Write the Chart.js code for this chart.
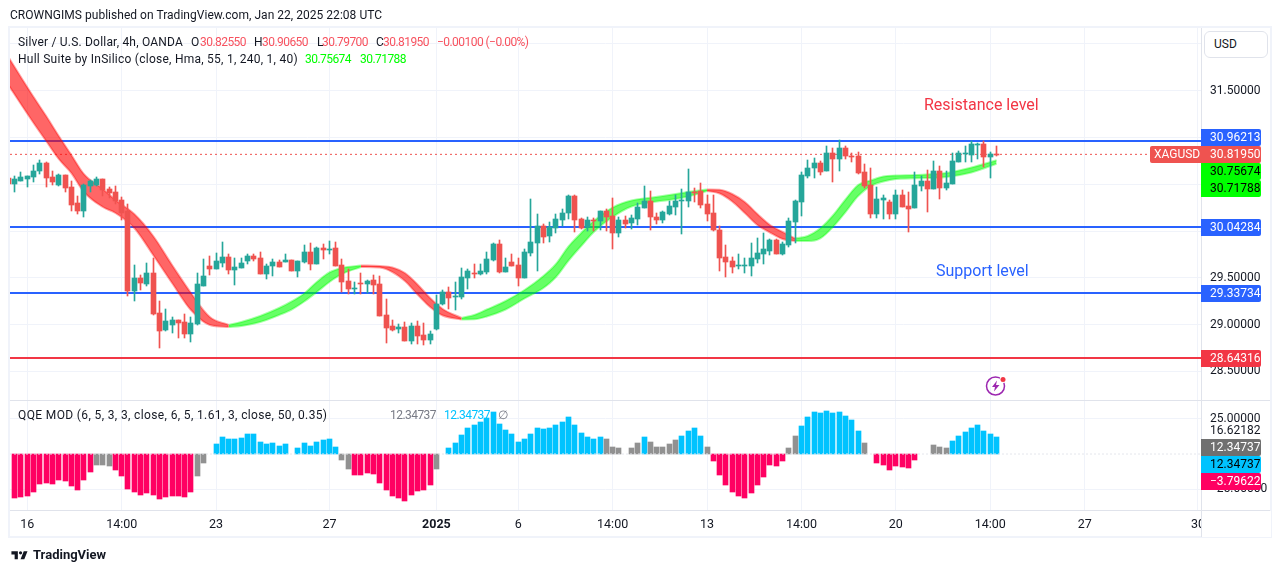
<!DOCTYPE html>
<html>
<head>
<meta charset="utf-8">
<title>XAGUSD 4h</title>
<script src="https://cdn.jsdelivr.net/npm/chart.js@4"></script>
<style>
    html, body { margin: 0; padding: 0; background: #fff; overflow: hidden; }
    body { width: 1281px; height: 573px; position: relative; font-family: Roboto, sans-serif; font-size: 12px; color: #131722; }
    canvas { position: absolute; left: 0; top: 0; }
    .frame { position: absolute; left: 8px; top: 26px; width: 1260px; height: 508px; border: 2px solid #f0f3fa; }
    .t { position: absolute; white-space: nowrap; line-height: 16px; }
    .num { letter-spacing: -0.55px; }
    .red { color: #f7525f; }
    .green { color: #00ff00; }
    .usd { position: absolute; left: 1204px; top: 31px; width: 62px; height: 25px; background: #fff; border: 1px solid #e0e3eb; border-radius: 6px; line-height: 25px; text-indent: 9px; }
</style>
</head>
<body>
<div class="frame"></div>
<canvas id="myChart" width="1281" height="573"></canvas>

<div class="t" style="left:10px;top:7px;letter-spacing:0.03px">CROWNGIMS published on TradingView.com, Jan 22, 2025 22:08 UTC</div>
<div class="t" style="left:18px;top:34px;letter-spacing:0.2px">Silver / U.S. Dollar, 4h, OANDA</div>
<div class="t" style="left:191px;top:34px">O</div><div class="t red num" style="left:200px;top:34px">30.82550</div>
<div class="t" style="left:254px;top:34px">H</div><div class="t red num" style="left:262px;top:34px">30.90650</div>
<div class="t" style="left:317px;top:34px">L</div><div class="t red num" style="left:322px;top:34px">30.79700</div>
<div class="t" style="left:376px;top:34px">C</div><div class="t red num" style="left:383px;top:34px">30.81950</div>
<div class="t red num" style="left:437px;top:34px">−0.00100 (−0.00%)</div>
<div class="t" style="left:18px;top:51px;letter-spacing:0.25px">Hull Suite by InSilico (close, Hma, 55, 1, 240, 1, 40)</div>
<div class="t green num" style="left:305px;top:51px">30.75674</div>
<div class="t green num" style="left:360px;top:51px">30.71788</div>
<div class="t" style="left:18px;top:407px;letter-spacing:0.37px">QQE MOD (6, 5, 3, 3, close, 6, 5, 1.61, 3, close, 50, 0.35)</div>
<div class="t num" style="left:390px;top:407px;color:#787b86">12.34737</div>
<div class="t num" style="left:444px;top:407px;color:#00c3ff">12.34737</div>
<div class="t" style="left:498px;top:407px;color:#787b86">∅</div>
<div class="t" style="left:924px;top:96px;font-size:16px;line-height:18px;color:#f23645">Resistance level</div>
<div class="t" style="left:936px;top:262px;font-size:16px;line-height:18px;color:#2962ff">Support level</div>
<div class="usd">USD</div>

<svg style="position:absolute;left:985px;top:375px" width="24" height="22" viewBox="0 0 24 22">
    <circle cx="10.5" cy="11" r="9" fill="none" stroke="#9c27b0" stroke-width="1.5"/>
    <path d="M12 5.5 L7 12 H10 L9 16.5 L14.5 10 H11 Z" fill="#9c27b0"/>
    <circle cx="18" cy="4.5" r="3.5" fill="#fff"/>
    <circle cx="18" cy="4.5" r="2.5" fill="#f23645"/>
</svg>
<svg style="position:absolute;left:10px;top:548px" width="20" height="15" viewBox="0 0 36 28">
    <path fill="#131722" d="M14 6H2v6h6v9h6V6zm12 15h-7l6-15h7l-6 15zm-7-9a3 3 0 1 0 0-6 3 3 0 0 0 0 6z"/>
</svg>
<div class="t" style="left:33px;top:547px;font-size:13px;font-weight:700">TradingView</div>

<script>
// first entry sits one bar left of the visible range
const firstBar = -1;

const opens = [30.57,
    30.503,30.535,30.556,30.578,30.642,30.727,30.578,30.492,30.599,30.471,
    30.300,30.214,30.481,30.492,30.556,30.449,30.417,30.332,30.214,29.359,
    29.498,29.434,29.551,29.124,28.942,28.996,29.049,29.028,28.899,29.006,
    29.413,29.626,29.594,29.658,29.722,29.584,29.605,29.680,29.733,29.712,
    29.541,29.626,29.669,29.669,29.690,29.573,29.669,29.776,29.648,29.819,
    29.797,29.819,29.637,29.466,29.380,29.445,29.434,29.477,29.434,29.103,
    28.985,28.953,28.974,28.825,28.985,28.889,28.835,28.953,29.220,29.348,
    29.295,29.295,29.498,29.551,29.540,29.562,29.690,29.861,29.562,29.669,
    29.637,29.498,29.765,29.872,30.054,29.947,30.032,30.118,30.192,30.374,
    30.128,30.043,30.118,30.107,30.214,30.160,29.979,30.118,30.086,30.128,
    30.246,30.321,30.150,30.117,30.182,30.256,30.321,30.321,30.417,30.427,
    30.288,30.192,30.011,29.722,29.679,29.626,29.626,29.626,29.701,29.754,
    29.786,29.904,29.754,29.850,30.096,30.310,30.588,30.673,30.727,30.641,
    30.834,30.769,30.887,30.802,30.802,30.631,30.492,30.182,30.331,30.310,
    30.182,30.385,30.267,30.246,30.481,30.534,30.449,30.641,30.459,30.502,
    30.737,30.823,30.812,30.919,30.930,30.791,30.8255];

const highs = [30.60,
    30.588,30.631,30.588,30.706,30.759,30.738,30.642,30.610,30.599,30.535,
    30.375,30.503,30.546,30.578,30.556,30.471,30.481,30.364,30.289,29.637,
    29.530,29.658,29.712,29.252,29.167,29.081,29.049,29.113,29.081,29.551,
    29.701,29.733,29.765,29.883,29.755,29.712,29.712,29.755,29.755,29.776,
    29.648,29.701,29.690,29.755,29.690,29.680,29.851,29.872,29.829,29.861,
    29.894,29.883,29.701,29.594,29.455,29.552,29.477,29.530,29.519,29.274,
    29.049,29.006,29.028,29.017,29.038,29.017,28.932,29.316,29.369,29.402,
    29.455,29.605,29.594,29.647,29.647,29.776,29.872,29.904,29.711,29.754,
    29.711,29.808,30.342,30.182,30.075,30.096,30.182,30.235,30.385,30.385,
    30.139,30.150,30.139,30.214,30.235,30.353,30.150,30.160,30.171,30.299,
    30.481,30.428,30.192,30.214,30.321,30.385,30.449,30.663,30.459,30.513,
    30.385,30.385,30.053,29.850,29.722,29.754,29.711,29.872,29.925,29.978,
    29.914,29.914,29.882,30.139,30.331,30.631,30.759,30.780,30.748,30.908,
    30.887,30.973,30.908,30.834,30.844,30.716,30.673,30.470,30.385,30.331,
    30.438,30.438,30.417,30.631,30.588,30.652,30.748,30.695,30.641,30.834,
    30.855,30.908,30.962,30.940,30.962,30.844,30.9065];

const lows = [30.49,
    30.417,30.535,30.471,30.524,30.610,30.471,30.492,30.481,30.417,30.214,
    30.182,30.150,30.417,30.481,30.375,30.353,30.289,30.118,29.306,29.252,
    29.370,29.413,29.103,28.750,28.932,28.910,28.857,28.857,28.814,28.996,
    29.413,29.530,29.594,29.616,29.541,29.423,29.605,29.648,29.680,29.541,
    29.487,29.519,29.616,29.669,29.573,29.509,29.658,29.584,29.648,29.701,
    29.755,29.626,29.348,29.327,29.327,29.327,29.338,29.327,29.092,28.803,
    28.932,28.910,28.825,28.793,28.793,28.782,28.793,28.942,29.209,29.166,
    29.156,29.273,29.380,29.498,29.530,29.540,29.679,29.551,29.562,29.626,
    29.412,29.498,29.733,29.572,29.872,29.883,29.979,30.054,30.128,29.989,
    30.021,30.000,30.000,30.011,30.000,29.808,29.936,30.032,30.021,30.064,
    30.246,30.011,30.075,30.085,30.171,30.171,29.968,30.256,30.310,30.246,
    30.107,30.000,29.572,29.508,29.551,29.594,29.551,29.519,29.658,29.647,
    29.743,29.754,29.743,29.829,29.872,30.160,30.566,30.566,30.598,30.641,
    30.524,30.641,30.769,30.737,30.609,30.459,30.139,30.139,30.128,30.128,
    30.128,30.256,29.989,30.246,30.427,30.203,30.449,30.342,30.438,30.502,
    30.737,30.737,30.737,30.769,30.684,30.566,30.797];

const closes = [30.50,
    30.556,30.578,30.588,30.642,30.727,30.567,30.524,30.599,30.460,30.278,
    30.214,30.492,30.535,30.556,30.439,30.407,30.321,30.193,29.359,29.498,
    29.445,29.551,29.113,28.932,29.038,29.049,29.017,28.899,29.017,29.434,
    29.519,29.594,29.680,29.722,29.584,29.616,29.658,29.733,29.701,29.541,
    29.626,29.669,29.616,29.690,29.573,29.680,29.776,29.648,29.819,29.797,
    29.808,29.626,29.455,29.380,29.391,29.434,29.466,29.423,29.092,28.964,
    28.942,28.974,28.825,28.985,28.878,28.835,28.899,29.220,29.348,29.284,
    29.305,29.508,29.572,29.540,29.572,29.701,29.861,29.562,29.615,29.626,
    29.498,29.776,29.883,30.054,29.936,30.043,30.128,30.192,30.374,30.118,
    30.032,30.118,30.107,30.214,30.150,29.979,30.118,30.075,30.139,30.257,
    30.321,30.150,30.117,30.203,30.267,30.321,30.331,30.417,30.406,30.278,
    30.182,30.011,29.711,29.669,29.615,29.636,29.636,29.711,29.765,29.807,
    29.904,29.754,29.861,30.107,30.321,30.598,30.673,30.727,30.631,30.834,
    30.769,30.887,30.802,30.791,30.620,30.481,30.182,30.342,30.353,30.182,
    30.385,30.256,30.235,30.492,30.534,30.449,30.641,30.459,30.513,30.748,
    30.834,30.834,30.930,30.930,30.791,30.823,30.8195];

const hullIndex = [-1,3,5,7,9,11,14,16,19,22,25,28,31,34,
    36,39,42,44,46,48,50,52,55,
    58,60,62,64,66,68,71,
    73,75,78,81,84,86,88,90,92,95,98,101,104,107,110,
    112,114,116,118,120,122,124,
    126,128,130,132,134,136,138,140,143,148,152,156];
const hullUpper = [31.860,31.432,31.229,31.016,30.812,30.609,30.449,30.332,30.182,29.947,29.637,29.338,29.081,28.996,
    29.028,29.092,29.177,29.247,29.332,29.455,29.557,29.605,29.632,
    29.626,29.610,29.551,29.429,29.284,29.167,29.071,
    29.102,29.161,29.252,29.370,29.519,29.648,29.835,29.979,30.107,30.251,30.326,30.355,30.385,30.417,30.444,
    30.441,30.396,30.310,30.182,30.064,29.990,29.920,
    29.947,30.029,30.166,30.337,30.492,30.540,30.583,30.593,30.599,30.620,30.679,30.75674];
const hullLower = [31.561,31.155,30.962,30.770,30.620,30.417,30.257,30.193,30.032,29.744,29.445,29.156,28.996,28.974,
    28.985,29.028,29.103,29.161,29.247,29.348,29.455,29.541,29.616,
    29.610,29.562,29.466,29.322,29.188,29.097,29.055,
    29.057,29.087,29.161,29.279,29.391,29.509,29.685,29.840,29.990,30.150,30.262,30.307,30.332,30.369,30.428,
    30.401,30.316,30.193,30.064,29.984,29.915,29.893,
    29.893,29.922,30.043,30.203,30.374,30.481,30.529,30.556,30.563,30.577,30.625,30.71788];
// bars where the hull flips between falling and rising
const hullTurns = [-1,34,55,71,110,124,156];

const qqeValues = [
    -31.1,-30.4,-29.7,-26.9,-21.2,-20.5,-21.2,-18.4,-19.1,-22.6,
    -25.5,-18.4,-12.7,-7.8,-7.8,-8.5,-11.3,-15.6,-24.8,-26.9,
    -29.0,-27.6,-29.0,-31.8,-30.4,-29.7,-29.7,-30.4,-26.9,-15.6,
    -6.4,null,7.1,12.0,10.6,10.6,11.3,14.1,14.1,8.5,
    7.1,7.8,5.7,7.1,null,4.2,7.8,5.7,8.5,9.9,
    10.6,5.0,-4.2,-10.6,-14.9,-14.9,-13.4,-14.1,-20.5,-25.5,
    -29.7,-31.1,-33.2,-29.0,-26.0,-25.5,-21.9,-10.6,null,4.2,
    7.8,13.4,18.4,20.5,22.6,25.5,29.7,21.2,17.0,14.1,
    8.5,10.6,14.1,18.4,17.7,18.4,20.5,22.6,26.2,20.5,
    14.9,12.0,10.6,12.0,10.6,5.0,4.2,null,4.2,7.8,
    12.0,8.5,5.0,5.0,7.1,9.9,12.7,16.3,18.4,12.7,
    5.0,-5.0,-14.9,-21.9,-26.9,-29.7,-31.1,-27.6,-21.9,-16.3,
    -7.8,-8.5,-5.0,4.2,12.7,19.8,25.9,29.7,29.0,30.4,
    29.0,29.7,26.9,24.0,16.3,7.8,null,-6.4,-7.8,-11.3,
    -8.5,-9.2,-9.9,-4.2,null,null,6.4,5.0,4.2,9.2,
    12.7,15.6,18.4,20.5,16.3,14.1,12.34737];
const qqeNeutral = [13,14,15,29,30,52,53,67,94,95,96,98,99,101,102,103,104,105,110,123,124,135,146,147,148];

const blueLevels = [30.96213, 30.04284, 29.33734];
const redLevel = 28.64316;
const lastPrice = 30.8195;
const qqeZero = 0;

const timeTicks = [2,17,32,50,67,80,95,110,125,140,155,170,188];
const timeLabels = ['16','14:00','23','27','2025','6','14:00','13','14:00','20','14:00','27','30'];
const priceTicks = [28.5,29,29.5,30,30.5,31,31.5,32];
const priceLabels = ['28.50000','29.00000','29.50000','','','','31.50000',''];
const qqeTicks = [25,16.62182,-25];
const qqeLabels = ['25.00000','16.62182','−25.00000'];

const teal = '#26a69a';
const red = '#ef5350';
const grid = '#f0f3fa';
const sep = '#e0e3eb';
const axisFont = { family: 'Roboto', size: 12 };
const timeFont = { family: 'Roboto', size: 12.5 };

const xMin = -0.747;
const xMax = 188.48;

function levelLine(value, color, width, dash, order, axis) {
    return {
        type: 'line',
        yAxisID: axis || 'y',
        data: [{ x: xMin, y: value }, { x: xMax, y: value }],
        borderColor: color,
        borderWidth: width,
        borderDash: dash || [],
        pointRadius: 0,
        order: order
    };
}

const candleX = i => firstBar + i;
const candleColors = closes.map((c, i) => c >= opens[i] ? teal : red);

const datasets = [];

// wicks and bodies
datasets.push({
    data: closes.map((c, i) => ({ x: candleX(i), y: [lows[i], highs[i]] })),
    backgroundColor: candleColors,
    barThickness: 1,
    grouped: false,
    yAxisID: 'y',
    order: 1
});
datasets.push({
    data: closes.map((c, i) => ({ x: candleX(i), y: [opens[i], c] })),
    backgroundColor: candleColors,
    barThickness: 5,
    grouped: false,
    yAxisID: 'y',
    order: 1
});

// hull band, one pair of lines per trend leg
for (let n = 0; n < hullTurns.length - 1; n++) {
    const inLeg = hullIndex.map((v, i) => i).filter(i => hullIndex[i] >= hullTurns[n] && hullIndex[i] <= hullTurns[n + 1]);
    const falling = n % 2 === 0;
    const edge = falling ? 'rgba(255,0,0,0.35)' : 'rgba(0,255,0,0.35)';
    datasets.push({
        type: 'line',
        yAxisID: 'y',
        data: inLeg.map(i => ({ x: hullIndex[i], y: hullUpper[i] })),
        borderColor: edge,
        borderWidth: 2,
        pointRadius: 0,
        cubicInterpolationMode: 'monotone',
        fill: '+1',
        backgroundColor: falling ? 'rgba(255,0,0,0.6)' : 'rgba(0,255,0,0.6)',
        order: 2
    });
    datasets.push({
        type: 'line',
        yAxisID: 'y',
        data: inLeg.map(i => ({ x: hullIndex[i], y: hullLower[i] })),
        borderColor: edge,
        borderWidth: 2,
        pointRadius: 0,
        cubicInterpolationMode: 'monotone',
        fill: false,
        order: 2
    });
}

blueLevels.forEach(v => datasets.push(levelLine(v, '#2962ff', 2, null, 3)));
datasets.push(levelLine(redLevel, '#f23645', 2, null, 3));
datasets.push(levelLine(lastPrice, red, 1, [2, 3], 3));

// qqe histogram
datasets.push({
    data: qqeValues.map((v, i) => ({ x: i, y: v })),
    backgroundColor: qqeValues.map((v, i) => qqeNeutral.includes(i) ? '#919191' : (v > 0 ? '#00c3ff' : '#ff0062')),
    barThickness: 5,
    grouped: false,
    yAxisID: 'yq',
    order: 2
});
datasets.push(levelLine(qqeZero, '#e4e6ec', 1, [2, 2], 1, 'yq'));

// keep bars on whole pixels like the original
const snapBars = {
    id: 'snapBars',
    afterDatasetsUpdate(chart) {
        chart.getSortedVisibleDatasetMetas().forEach(meta => {
            if (meta.type !== 'bar') return;
            meta.data.forEach(bar => {
                if (bar.skip) return;
                bar.x = Math.round(bar.x - 0.5) + 0.5;
                bar.y = Math.round(bar.y);
                bar.base = Math.round(bar.base);
                if (bar.y === bar.base) bar.base = bar.y + 1;
            });
        });
    }
};

function drawTag(ctx, text, top, left, right, bg, fg, inset) {
    ctx.fillStyle = bg;
    ctx.beginPath();
    ctx.roundRect(left, top, right - left, 17, left < 1200 ? [2, 0, 0, 2] : [0, 2, 2, 0]);
    ctx.fill();
    ctx.fillStyle = fg;
    ctx.fillText(text, left + (inset || 9), top + 9);
}

const overlay = {
    id: 'overlay',
    afterDraw(chart) {
        const ctx = chart.ctx;
        const area = chart.chartArea;
        const y = chart.scales.y;
        ctx.save();
        // time label under the price axis gets cut off
        ctx.fillStyle = '#fff';
        ctx.fillRect(area.right + 1, area.bottom + 1, 69, 26);
        ctx.fillStyle = sep;
        ctx.fillRect(area.left, Math.round(y.bottom), area.right + 69 - area.left, 1);
        ctx.fillRect(area.left, Math.round(area.bottom), area.right + 69 - area.left, 1);
        ctx.fillRect(area.right, area.top, 1, area.bottom + 27 - area.top);

        ctx.font = '12px Roboto';
        ctx.textBaseline = 'middle';
        ctx.textAlign = 'left';
        const l = area.right;
        const r = area.right + 60;
        drawTag(ctx, '30.96213', 129, l, r, '#2962ff', '#fff');
        drawTag(ctx, '30.81950', 146, l, r, red, '#fff');
        drawTag(ctx, '30.75674', 163, l, r, '#00ff00', '#000');
        drawTag(ctx, '30.71788', 180, l, r, '#00ff00', '#000');
        drawTag(ctx, 'XAGUSD', 146, l - 51, l, red, '#fff', 4);
        blueLevels.slice(1).forEach(v => {
            drawTag(ctx, v.toFixed(5), Math.round(y.getPixelForValue(v)) - 8, l, r, '#2962ff', '#fff');
        });
        drawTag(ctx, redLevel.toFixed(5), Math.round(y.getPixelForValue(redLevel)) - 8, l, r, '#f23645', '#fff');
        drawTag(ctx, '12.34737', 439, l, r, '#707070', '#fff');
        drawTag(ctx, '12.34737', 456, l, r, '#00c3ff', '#000');
        drawTag(ctx, '−3.79622', 473, l, r, '#ff0062', '#fff');
        ctx.restore();
    }
};

const ctx = document.getElementById('myChart').getContext('2d');
// digits in the original run narrower than Roboto
ctx.letterSpacing = '-0.55px';
new Chart(ctx, {
    type: 'bar',
    data: { datasets: datasets },
    plugins: [snapBars, overlay],
    options: {
        responsive: false,
        animation: false,
        events: [],
        layout: { padding: { left: 10, top: 28, right: 10, bottom: 36 } },
        plugins: {
            legend: { display: false },
            title: { display: false },
            tooltip: { enabled: false }
        },
        scales: {
            x: {
                type: 'linear',
                offset: false,
                min: xMin,
                max: xMax,
                afterFit: s => { s.height = 27; },
                afterBuildTicks: s => { s.ticks = timeTicks.map(v => ({ value: v })); },
                grid: { color: grid, drawTicks: false, offset: false },
                border: { display: false },
                ticks: {
                    autoSkip: false,
                    maxRotation: 0,
                    padding: 7,
                    color: '#131722',
                    font: c => (c.tick && timeLabels[timeTicks.indexOf(c.tick.value)] === '2025') ? { family: 'Roboto', size: 12.5, weight: 'bold' } : timeFont,
                    callback: v => timeLabels[timeTicks.indexOf(v)]
                }
            },
            y: {
                type: 'linear',
                position: 'right',
                stack: 'panes',
                stackWeight: 372,
                min: 28.194,
                max: 32.17,
                afterFit: s => { s.width = 70; },
                afterBuildTicks: s => { s.ticks = priceTicks.map(v => ({ value: v })); },
                grid: { color: grid, drawTicks: false },
                border: { display: false },
                ticks: {
                    padding: 9,
                    color: '#131722',
                    font: axisFont,
                    callback: v => priceLabels[priceTicks.indexOf(v)]
                }
            },
            yq: {
                type: 'linear',
                position: 'right',
                stack: 'panes',
                stackWeight: 110,
                min: -39.6,
                max: 38.2,
                afterFit: s => { s.width = 70; },
                afterBuildTicks: s => { s.ticks = qqeTicks.map(v => ({ value: v })); },
                grid: { color: c => (c.tick && Math.abs(c.tick.value) === 25) ? grid : 'rgba(0,0,0,0)', drawTicks: false },
                border: { display: false },
                ticks: {
                    padding: 9,
                    color: '#131722',
                    font: axisFont,
                    callback: v => qqeLabels[qqeTicks.indexOf(v)]
                }
            }
        }
    }
});
</script>
</body>
</html>
